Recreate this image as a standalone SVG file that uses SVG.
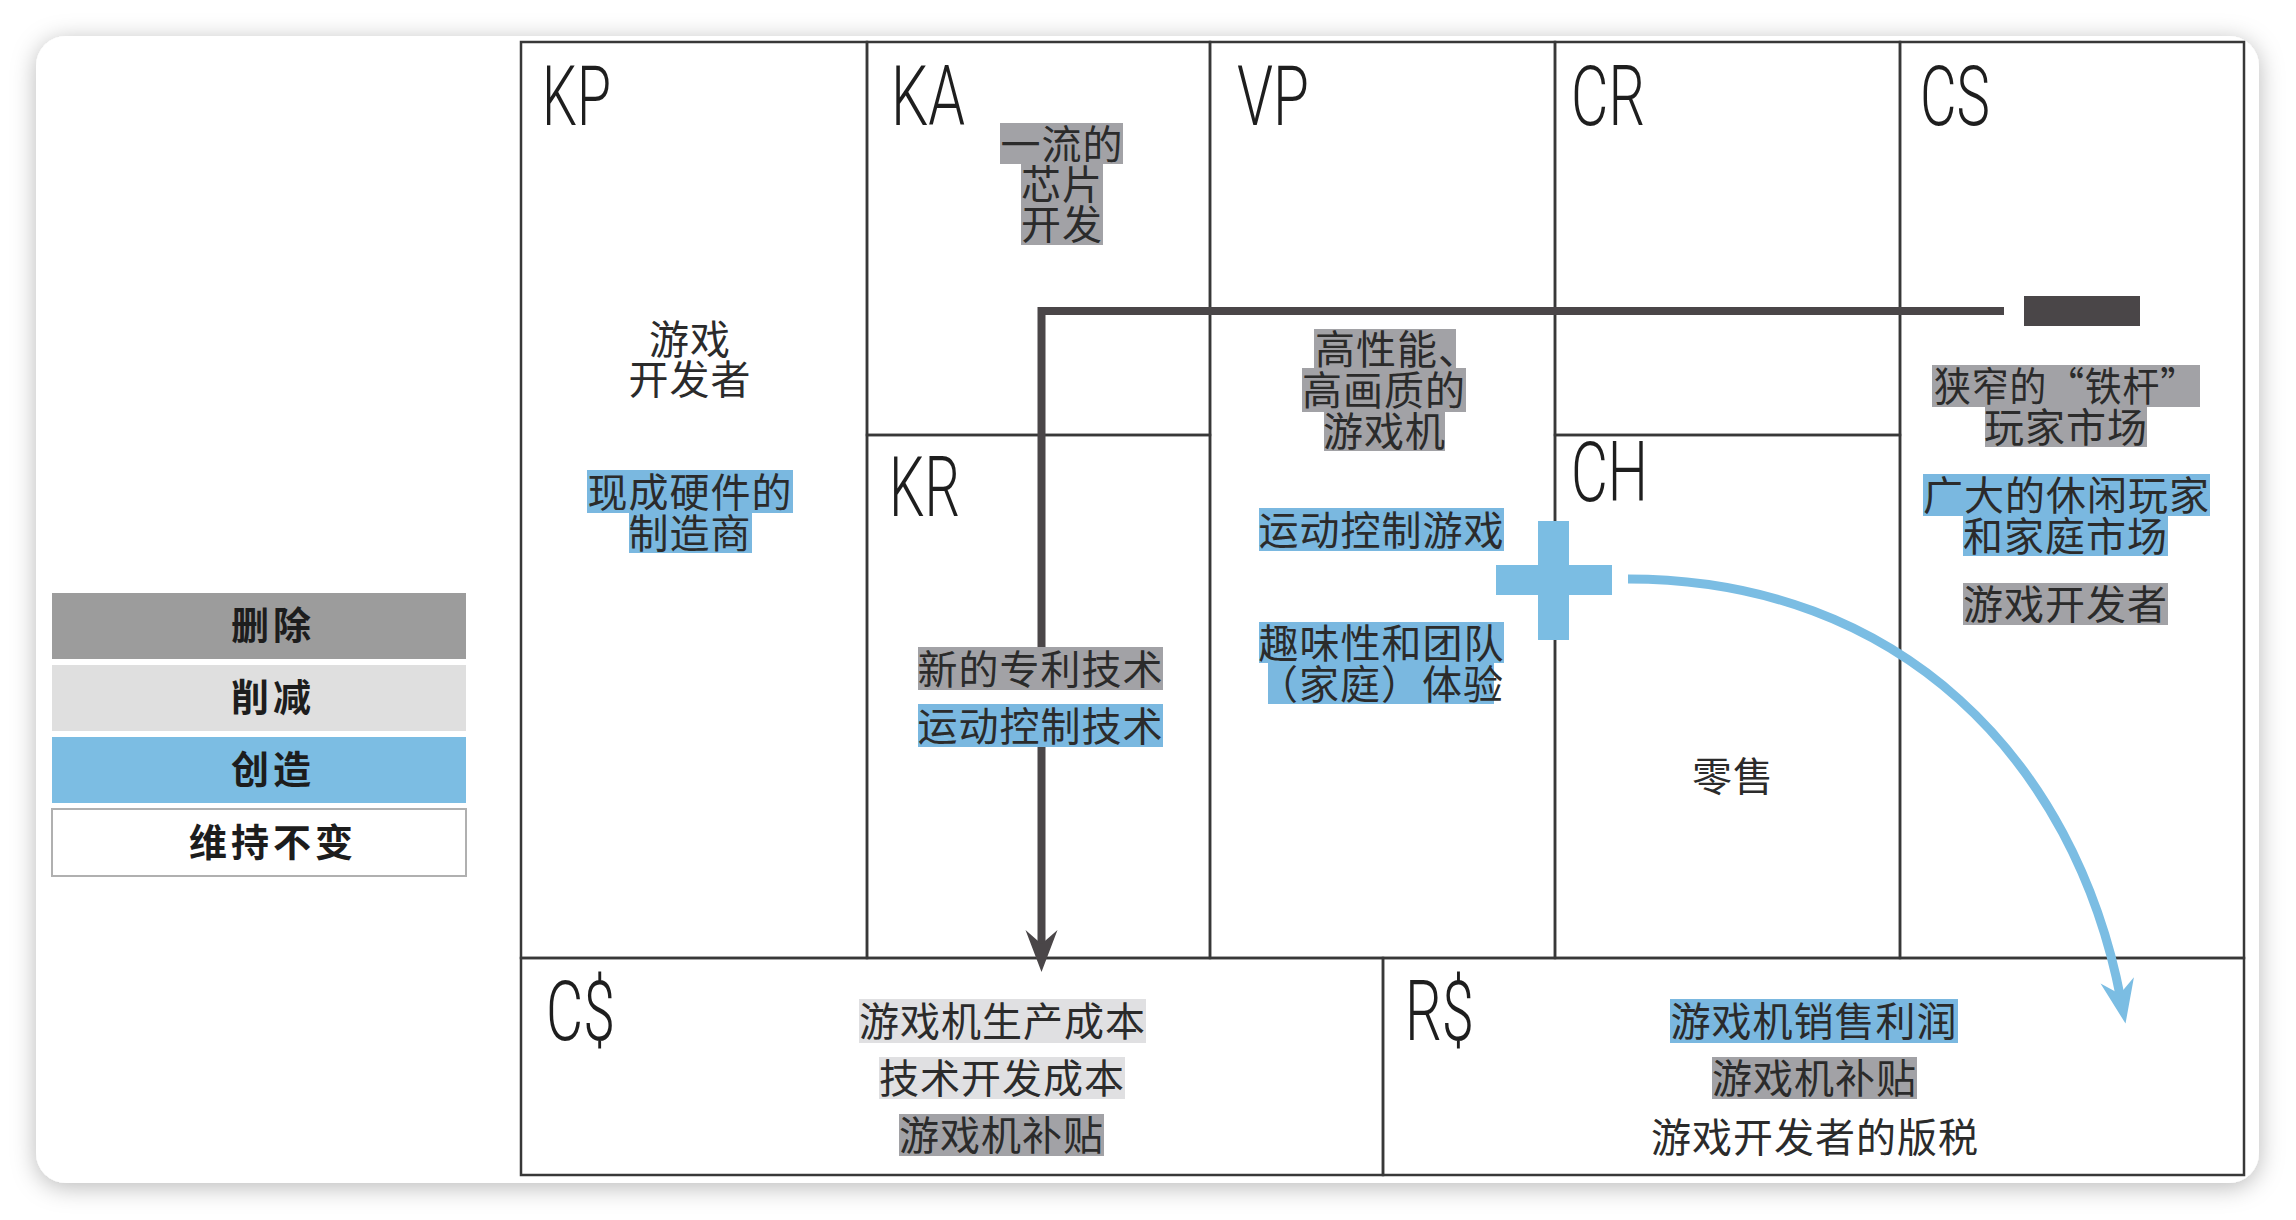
<svg xmlns="http://www.w3.org/2000/svg" width="2296" height="1220" viewBox="0 0 2296 1220">
<style>
.frame{fill:none;stroke:#383838;stroke-width:2.5}
.lbl{font-family:Roboto,'Open Sans','DejaVu Sans',sans-serif;font-weight:300;font-size:84px;fill:#1e1e1e}
.t{font-family:'Noto Sans CJK SC','Noto Sans CJK TC',sans-serif;font-size:40px;letter-spacing:1px;fill:#2b2b2b;text-anchor:middle;dominant-baseline:central}
.ts{text-anchor:start}
.lg{font-family:'Noto Sans CJK SC',sans-serif;font-size:38px;font-weight:700;letter-spacing:4px;fill:#1d1d1d;text-anchor:middle;dominant-baseline:central}
.hd{fill:#a2a2a6}
.hl{fill:#e0e0e2}
.hb{fill:#7ab8e0}
.blue{fill:#7bbde3}
</style>
<defs>
<filter id="shadow" x="-5%" y="-5%" width="110%" height="110%">
<feDropShadow dx="0" dy="4" stdDeviation="12" flood-color="#000" flood-opacity="0.28"/>
</filter>
<marker id="arrowDark" markerUnits="userSpaceOnUse" viewBox="-30 -30 60 60" markerWidth="60" markerHeight="60" refX="0" refY="0" orient="auto" overflow="visible">
<path d="M22,0 L-20,-16 L-6,0 L-20,16 Z" fill="#4a4648"/>
</marker>
<marker id="arrowBlue" markerUnits="userSpaceOnUse" viewBox="-30 -30 60 60" markerWidth="60" markerHeight="60" refX="0" refY="0" orient="auto" overflow="visible">
<path d="M24,0 L-20,-17 L-6,0 L-20,17 Z" fill="#7bbde3"/>
</marker>
</defs>
<rect width="2296" height="1220" fill="#ffffff"/>
<rect x="36" y="36" width="2223" height="1147" rx="30" fill="#ffffff" filter="url(#shadow)"/>

<g id="legend">
<rect x="52" y="593" width="414" height="66" fill="#9c9c9c"/>
<text class="lg" x="273" y="622">删除</text>
<rect x="52" y="665" width="414" height="66" fill="#dfdfdf"/>
<text class="lg" x="273" y="694">削减</text>
<rect x="52" y="737" width="414" height="66" fill="#7cbde3"/>
<text class="lg" x="273" y="766">创造</text>
<rect x="52" y="809" width="414" height="67" fill="#ffffff" stroke="#b0b0b0" stroke-width="2"/>
<text class="lg" x="273" y="839">维持不变</text>
</g>

<g id="KP">
<rect class="frame" x="521" y="42" width="346" height="916"/>
<text class="lbl" x="542" y="125" textLength="69" lengthAdjust="spacingAndGlyphs">KP</text>
<text class="t" x="690" y="337">游戏</text>
<text class="t" x="690" y="377">开发者</text>
<rect class="hb" x="587" y="470" width="206" height="43"/>
<rect class="hb" x="629" y="513" width="123" height="40"/>
<text class="t" x="690" y="489.5">现成硬件的</text>
<text class="t" x="690" y="531">制造商</text>
</g>

<g id="KA">
<rect class="frame" x="867" y="42" width="343" height="393"/>
<text class="lbl" x="891" y="125" textLength="74" lengthAdjust="spacingAndGlyphs">KA</text>
<rect class="hd" x="1000" y="123" width="123" height="41"/>
<rect class="hd" x="1021" y="164" width="82" height="81"/>
<text class="t" x="1062" y="141.5">一流的</text>
<text class="t" x="1062" y="181.5">芯片</text>
<text class="t" x="1062" y="222">开发</text>
</g>

<g id="KR">
<rect class="frame" x="867" y="435" width="343" height="523"/>
<text class="lbl" x="889" y="516" textLength="71" lengthAdjust="spacingAndGlyphs">KR</text>
<rect class="hd" x="918" y="647" width="245" height="43"/>
<text class="t" x="1040.5" y="666.5">新的专利技术</text>
<rect class="hb" x="918" y="704" width="245" height="43"/>
<text class="t" x="1040.5" y="723.5">运动控制技术</text>
</g>

<g id="VP">
<rect class="frame" x="1210" y="42" width="345" height="916"/>
<text class="lbl" x="1237" y="125" textLength="72" lengthAdjust="spacingAndGlyphs">VP</text>
<rect class="hd" x="1314" y="329" width="142" height="39"/>
<rect class="hd" x="1302" y="368" width="164" height="44"/>
<rect class="hd" x="1324" y="412" width="121" height="39"/>
<text class="t ts" x="1315" y="346.5">高性能、</text>
<text class="t" x="1384" y="388">高画质的</text>
<text class="t" x="1384.5" y="429">游戏机</text>
<rect class="hb" x="1259" y="508" width="245" height="43"/>
<text class="t" x="1381.5" y="527.5">运动控制游戏</text>
<rect class="hb" x="1259" y="622" width="245" height="41"/>
<rect class="hb" x="1268" y="663" width="226" height="41"/>
<text class="t" x="1381.5" y="640.5">趣味性和团队</text>
<text class="t" x="1381" y="681.5">（家庭）体验</text>
</g>

<g id="CR">
<rect class="frame" x="1555" y="42" width="345" height="393"/>
<text class="lbl" x="1571" y="125" textLength="74" lengthAdjust="spacingAndGlyphs">CR</text>
</g>

<g id="CH">
<rect class="frame" x="1555" y="435" width="345" height="523"/>
<text class="lbl" x="1571" y="501" textLength="77" lengthAdjust="spacingAndGlyphs">CH</text>
<text class="t" x="1733" y="774">零售</text>
</g>

<g id="CS">
<rect class="frame" x="1900" y="42" width="344" height="916"/>
<text class="lbl" x="1920" y="125" textLength="70" lengthAdjust="spacingAndGlyphs">CS</text>
<rect class="hd" x="1932" y="365" width="268" height="42"/>
<rect class="hd" x="1985" y="407" width="162" height="40"/>
<text class="t" x="2066" y="384" textLength="264" lengthAdjust="spacingAndGlyphs">狭窄的“铁杆”</text>
<text class="t" x="2066" y="425">玩家市场</text>
<rect class="hb" x="1923" y="474" width="287" height="42"/>
<rect class="hb" x="1963" y="516" width="205" height="40"/>
<text class="t" x="2066.5" y="493">广大的休闲玩家</text>
<text class="t" x="2065.5" y="534">和家庭市场</text>
<rect class="hd" x="1963" y="583" width="205" height="42"/>
<text class="t" x="2065.5" y="602">游戏开发者</text>
</g>

<g id="CostStructure">
<rect class="frame" x="521" y="958" width="862" height="217"/>
<text class="lbl" x="546" y="1040" textLength="69" lengthAdjust="spacingAndGlyphs">C$</text>
<rect class="hl" x="859" y="999" width="287" height="44"/>
<text class="t" x="1002.5" y="1019">游戏机生产成本</text>
<rect class="hl" x="879" y="1057" width="246" height="42"/>
<text class="t" x="1002" y="1076">技术开发成本</text>
<rect class="hd" x="899" y="1114" width="205" height="42"/>
<text class="t" x="1001.5" y="1133">游戏机补贴</text>
</g>

<g id="RevenueStreams">
<rect class="frame" x="1383" y="958" width="861" height="217"/>
<text class="lbl" x="1405" y="1040" textLength="69" lengthAdjust="spacingAndGlyphs">R$</text>
<rect class="hb" x="1670" y="999" width="288" height="44"/>
<text class="t" x="1814" y="1019">游戏机销售利润</text>
<rect class="hd" x="1712" y="1057" width="205" height="42"/>
<text class="t" x="1814.5" y="1076">游戏机补贴</text>
<text class="t" x="1815" y="1134.5">游戏开发者的版税</text>
</g>

<g id="connectors">
<rect x="2024" y="296" width="116" height="30" fill="#4a4648"/>
<path d="M2004,311 H1041.5 V647 M1041.5,747 V950" fill="none" stroke="#4a4648" stroke-width="8" stroke-linejoin="miter" marker-end="url(#arrowDark)"/>
<rect class="blue" x="1538" y="521" width="31" height="119"/>
<rect class="blue" x="1496" y="565" width="116" height="30"/>
<path d="M1628,579 C1900,579 2075,760 2121,1000" fill="none" stroke="#7bbde3" stroke-width="9" marker-end="url(#arrowBlue)"/>
</g>
</svg>
